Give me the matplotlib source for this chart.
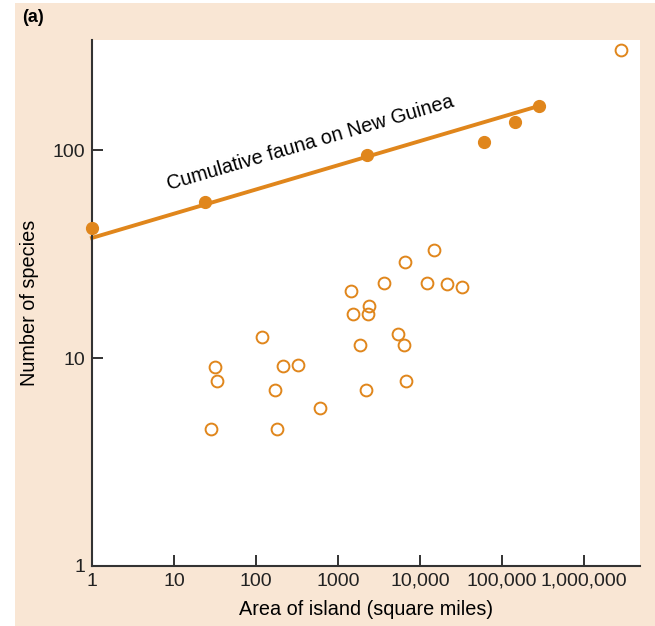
import matplotlib.pyplot as plt
from matplotlib.patches import Rectangle

plt.rcParams['font.family'] = ['Liberation Sans', 'DejaVu Sans']

# data
# cumulative fauna on New Guinea (filled)
ng_area = [1, 24, 2260, 60000, 144000, 283000]
ng_species = [42, 56, 95, 109, 136, 163]

# fitted line
line_area = [1, 283000]
line_species = [37.8, 163]

# individual islands (open)
isl_area = [14800, 6560, 1440, 3670, 12100, 21200, 32300, 2410, 1520, 2300,
            5440, 6330, 1840, 119, 31.6, 33.2, 215, 323, 170, 2200,
            6810, 603, 28, 179, 2830000]
isl_species = [33.0, 28.9, 21.0, 23.0, 22.9, 22.7, 22.0, 17.8, 16.2, 16.2,
               13.0, 11.5, 11.6, 12.6, 9.06, 7.75, 9.12, 9.29, 7.04, 7.05,
               7.75, 5.77, 4.54, 4.55, 302]

xticks = [1, 10, 100, 1000, 1e4, 1e5, 1e6]
xtick_labels = ['1', '10', '100', '1000', '10,000', '100,000', '1,000,000']
yticks = [1, 10, 100]
ytick_labels = ['1', '10', '100']

orange = '#e0861c'
peach = '#f9e6d4'

fig = plt.figure(figsize=(6.55, 6.26), dpi=100)
fig.patch.set_facecolor('white')
fig.patches.append(Rectangle((15 / 655, 0), 1, 1 - 3 / 626, transform=fig.transFigure,
                             facecolor=peach, edgecolor='none', zorder=-10))

ax = fig.add_axes([92 / 655, 1 - 566 / 626, 548 / 655, 526 / 626])
ax.set_facecolor('white')
ax.set_xscale('log')
ax.set_yscale('log')
ax.set_xlim(1, 4.8e6)
ax.set_ylim(1, 338)

ax.plot(line_area, line_species, color=orange, lw=2.8, zorder=2, clip_on=False)
ax.plot(ng_area, ng_species, 'o', color=orange, ms=8.5, zorder=3, clip_on=False)
ax.plot(isl_area, isl_species, 'o', mfc='none', mec=orange, mew=1.4, ms=8.5,
        zorder=3, clip_on=False)

ax.text(456, 108, 'Cumulative fauna on New Guinea', rotation=16.3,
        rotation_mode='anchor', ha='center', va='center', fontsize=14.3)

ax.set_xticks(xticks)
ax.set_xticklabels(xtick_labels)
ax.set_yticks(yticks)
ax.set_yticklabels(ytick_labels)
ax.minorticks_off()
ax.tick_params(direction='in', length=8, width=1.3, labelsize=14, colors='#222222',
               pad=5)

for s in ['top', 'right']:
    ax.spines[s].set_visible(False)
for s in ['left', 'bottom']:
    ax.spines[s].set_linewidth(1.5)
    ax.spines[s].set_color('#333333')

ax.set_xlabel('Area of island (square miles)', fontsize=14.3, labelpad=7)
ax.set_ylabel('Number of species', fontsize=14.3, labelpad=10)

fig.text(22 / 655, 1 - 18 / 626, '(a)', fontsize=13, fontweight='bold', va='center')

plt.savefig('out.png', dpi=100)
